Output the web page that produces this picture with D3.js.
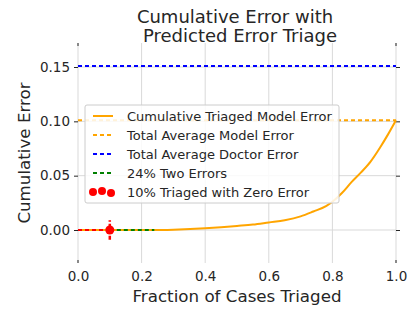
<!DOCTYPE html>
<html>
<head>
<style>
body { margin: 0; background: white; }
svg text { font-family: "DejaVu Sans", sans-serif; fill: #262626; }
</style>
</head>
<body>
<script src="https://d3js.org/d3.v7.min.js"></script>
<svg id='chart' width='415' height='312'></svg>
<script>
// cumulative triaged model error
const triagedFraction = [0, 0.1, 0.24, 0.3, 0.4, 0.45, 0.5, 0.55, 0.6, 0.65, 0.7, 0.74, 0.78, 0.8, 0.83, 0.86, 0.89, 0.92, 0.95, 0.975, 1.0];
const cumulativeError = [0, 0, 0, 0.0003, 0.0015, 0.0025, 0.0037, 0.005, 0.007, 0.009, 0.0125, 0.017, 0.022, 0.026, 0.034, 0.044, 0.053, 0.063, 0.076, 0.088, 0.101];
const modelError = 0.101;
const doctorError = 0.151;
const twoErrorsRange = [0.1, 0.24];
const zeroErrorRange = [0, 0.1];
const zeroErrorPoint = { x: 0.1, y: 0, err: 0.009 };
const xTicks = [0, 0.2, 0.4, 0.6, 0.8, 1.0];
const yTicks = [0, 0.05, 0.10, 0.15];
const legendLabels = ['Cumulative Triaged Model Error', 'Total Average Model Error', 'Total Average Doctor Error', '24% Two Errors', '10% Triaged with Zero Error'];

const svg = d3.select('#chart');
const plotLeft = 78, plotRight = 396, plotTop = 43, plotBottom = 263;

const x = d3.scaleLinear().domain([0, 1]).range([plotLeft, plotRight]);
const y = d3.scaleLinear().domain([0, 0.15]).range([230, 67]);

// grid
svg.append('g').selectAll('line').data(xTicks).join('line')
    .attr('x1', d => x(d)).attr('x2', d => x(d))
    .attr('y1', plotTop).attr('y2', plotBottom)
    .attr('stroke', '#d9d9d9').attr('stroke-width', 1);
svg.append('g').selectAll('line').data(yTicks).join('line')
    .attr('x1', plotLeft).attr('x2', plotRight)
    .attr('y1', d => y(d)).attr('y2', d => y(d))
    .attr('stroke', '#d9d9d9').attr('stroke-width', 1);

// axes (ticks on both sides)
const fmtX = d3.format('.1f'), fmtY = d3.format('.2f');
const xAxis = svg.append('g').attr('transform', `translate(0,${plotBottom})`)
    .call(d3.axisBottom(x).tickValues(xTicks).tickFormat(fmtX).tickSize(0).tickPadding(8));
const yAxis = svg.append('g').attr('transform', `translate(${plotLeft},0)`)
    .call(d3.axisLeft(y).tickValues(yTicks).tickFormat(fmtY).tickSize(4).tickPadding(4));
const yAxisR = svg.append('g').attr('transform', `translate(${plotRight},0)`)
    .call(d3.axisRight(y).tickValues(yTicks).tickFormat('').tickSize(4));
for (const g of [xAxis, yAxis, yAxisR]){
    g.select('.domain').remove();
    g.selectAll('text').style('font-size', '13.5px').attr('fill', '#262626');
    g.selectAll('line').attr('stroke', '#262626');
}
svg.append('g').selectAll('line').data([0, 1]).join('line')
    .attr('x1', d => x(d)).attr('x2', d => x(d))
    .attr('y1', plotTop).attr('y2', plotTop + 3)
    .attr('stroke', '#262626');
svg.append('g').selectAll('line').data([0, 1]).join('line')
    .attr('x1', d => x(d)).attr('x2', d => x(d))
    .attr('y1', plotBottom - 3).attr('y2', plotBottom)
    .attr('stroke', '#262626');

// lines
const line = d3.line().x(d => x(d[0])).y(d => y(d[1]));
svg.append('path')
    .attr('d', line.curve(d3.curveMonotoneX)(d3.zip(triagedFraction, cumulativeError)))
    .attr('fill', 'none').attr('stroke', 'orange').attr('stroke-width', 2);
line.curve(d3.curveLinear);
svg.append('path')
    .attr('d', line([[0, modelError], [1, modelError]]))
    .attr('fill', 'none').attr('stroke', 'orange').attr('stroke-width', 2).attr('stroke-dasharray', '4,3');
svg.append('path')
    .attr('d', line([[0, doctorError], [1, doctorError]]))
    .attr('fill', 'none').attr('stroke', 'blue').attr('stroke-width', 2).attr('stroke-dasharray', '4,3');
svg.append('path')
    .attr('d', line(twoErrorsRange.map(d => [d, 0])))
    .attr('fill', 'none').attr('stroke', 'green').attr('stroke-width', 2).attr('stroke-dasharray', '4,3');
svg.append('path')
    .attr('d', line(zeroErrorRange.map(d => [d, 0])))
    .attr('fill', 'none').attr('stroke', 'red').attr('stroke-width', 2).attr('stroke-dasharray', '4,3');

// point with error bar
svg.append('line')
    .attr('x1', x(zeroErrorPoint.x)).attr('x2', x(zeroErrorPoint.x))
    .attr('y1', y(zeroErrorPoint.y - zeroErrorPoint.err)).attr('y2', y(zeroErrorPoint.y + zeroErrorPoint.err))
    .attr('stroke', 'red').attr('stroke-width', 2.5).attr('stroke-dasharray', '4,2');
svg.append('circle')
    .attr('cx', x(zeroErrorPoint.x)).attr('cy', y(zeroErrorPoint.y)).attr('r', 4.5)
    .attr('fill', 'red');

// legend
const lg = svg.append('g').attr('transform', 'translate(85,105)');
lg.append('rect').attr('width', 254).attr('height', 98).attr('rx', 2)
    .attr('fill', 'white').attr('fill-opacity', 0.85).attr('stroke', '#cccccc');
const styles = [
    { color: 'orange', dash: null },
    { color: 'orange', dash: '4,3' },
    { color: 'blue', dash: '4,3' },
    { color: 'green', dash: '4,3' },
    { color: 'red', dots: true }
];
legendLabels.forEach((label, i) => {
    const ly = 11 + i * 19;
    const s = styles[i];
    if (s.dots){
        [0, 9, 18].forEach((dx, j) => {
            lg.append('circle').attr('cx', 8 + dx).attr('cy', ly + (j === 1 ? -1 : j === 2 ? 1 : 0)).attr('r', 4).attr('fill', 'red');
        });
    } else {
        lg.append('line').attr('x1', 8).attr('x2', 28).attr('y1', ly).attr('y2', ly)
            .attr('stroke', s.color).attr('stroke-width', 2)
            .attr('stroke-dasharray', s.dash);
    }
    lg.append('text').attr('x', 42).attr('y', ly + 5).style('font-size', '13px').text(label);
});

// titles
svg.append('text').attr('x', 235).attr('y', 23).attr('text-anchor', 'middle')
    .style('font-size', '18px').text('Cumulative Error with');
svg.append('text').attr('x', 240).attr('y', 42).attr('text-anchor', 'middle')
    .style('font-size', '18px').text('Predicted Error Triage');
svg.append('text').attr('x', 237).attr('y', 302).attr('text-anchor', 'middle')
    .style('font-size', '16.7px').text('Fraction of Cases Triaged');
svg.append('text').attr('transform', 'translate(30,153) rotate(-90)').attr('text-anchor', 'middle')
    .style('font-size', '16.7px').text('Cumulative Error');
</script>
</body>
</html>
